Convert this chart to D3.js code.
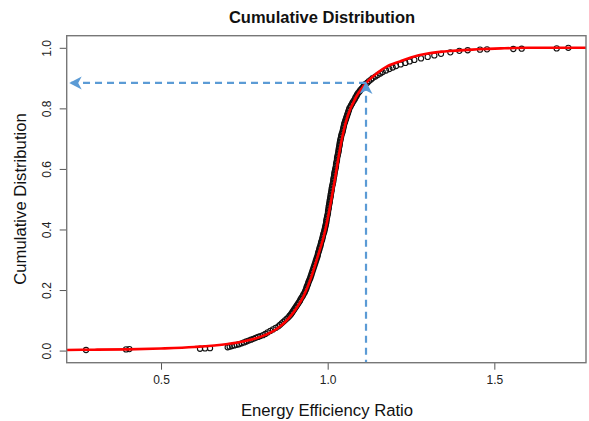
<!DOCTYPE html>
<html>
<head>
<meta charset="utf-8">
<script src="https://cdn.jsdelivr.net/npm/d3@7"></script>
<style>
  html, body { margin: 0; padding: 0; background: #fff; }
  svg { display: block; font-family: "Liberation Sans", Arial, sans-serif; }
</style>
</head>
<body>
<svg id="chart" width="589" height="421"></svg>
<script>
// Empirical cumulative distribution of the energy efficiency ratio (sorted sample values)
const effRatio = [
  0.275, 0.395, 0.405, 0.617, 0.632, 0.647,
  0.700, 0.706, 0.713, 0.720, 0.727, 0.734, 0.742, 0.749, 0.756, 0.763,
  0.770, 0.777, 0.784, 0.791, 0.798,
  0.806, 0.813, 0.820, 0.828, 0.836, 0.844, 0.852, 0.857, 0.862, 0.867,
  0.872, 0.877, 0.882, 0.886, 0.890, 0.893, 0.896, 0.899, 0.902, 0.905,
  0.908, 0.911, 0.914, 0.917, 0.919, 0.922, 0.925, 0.927, 0.930, 0.932,
  0.934, 0.936, 0.937, 0.939, 0.941, 0.942, 0.944, 0.946, 0.948, 0.949,
  0.951, 0.952, 0.954, 0.955, 0.957, 0.958, 0.960, 0.961, 0.963, 0.964,
  0.966, 0.967, 0.969, 0.970, 0.971, 0.972, 0.974, 0.975, 0.976, 0.978,
  0.979, 0.980, 0.981, 0.983, 0.984, 0.985, 0.986, 0.987, 0.989, 0.990,
  0.991, 0.992, 0.993, 0.994, 0.995, 0.996, 0.996, 0.997, 0.998, 0.999,
  1.000, 1.001, 1.001, 1.002, 1.003, 1.003, 1.004, 1.005, 1.006, 1.006,
  1.007, 1.008, 1.009, 1.009, 1.010, 1.011, 1.012, 1.012, 1.013, 1.014,
  1.015, 1.016, 1.017, 1.017, 1.018, 1.019, 1.020, 1.020, 1.021, 1.022,
  1.023, 1.024, 1.025, 1.025, 1.026, 1.027, 1.028, 1.028, 1.029, 1.030,
  1.031, 1.032, 1.033, 1.033, 1.034, 1.035, 1.036, 1.036, 1.037, 1.038,
  1.039, 1.040, 1.041, 1.042, 1.044, 1.045, 1.046, 1.047, 1.048, 1.049,
  1.050, 1.052, 1.053, 1.055, 1.056, 1.058, 1.059, 1.061, 1.062, 1.064,
  1.065, 1.068, 1.070, 1.073, 1.075, 1.078, 1.081, 1.083, 1.086, 1.088,
  1.091, 1.095, 1.098, 1.102, 1.106, 1.109, 1.113, 1.119, 1.124, 1.130,
  1.135, 1.143, 1.150, 1.158, 1.165, 1.175, 1.185, 1.195, 1.205, 1.219,
  1.233, 1.246, 1.260, 1.280, 1.300, 1.320, 1.340, 1.368, 1.395,
  1.420, 1.457, 1.478, 1.557, 1.582, 1.687, 1.722
];
const cumProb = [
  0.002, 0.004, 0.005, 0.006, 0.007, 0.008,
  0.011, 0.013, 0.015, 0.017, 0.019, 0.021, 0.024, 0.027, 0.030, 0.033,
  0.036, 0.039, 0.042, 0.045, 0.048,
  0.051, 0.055, 0.060, 0.065, 0.070, 0.075, 0.080, 0.085, 0.090, 0.095,
  0.100, 0.105, 0.110, 0.115, 0.120, 0.125, 0.130, 0.135, 0.140, 0.145,
  0.150, 0.155, 0.160, 0.165, 0.170, 0.175, 0.180, 0.185, 0.190, 0.195,
  0.200, 0.205, 0.210, 0.215, 0.220, 0.225, 0.230, 0.235, 0.240, 0.245,
  0.250, 0.255, 0.260, 0.265, 0.270, 0.275, 0.280, 0.285, 0.290, 0.295,
  0.300, 0.305, 0.310, 0.315, 0.320, 0.325, 0.330, 0.335, 0.340, 0.345,
  0.350, 0.355, 0.360, 0.365, 0.370, 0.375, 0.380, 0.385, 0.390, 0.395,
  0.400, 0.405, 0.410, 0.415, 0.420, 0.425, 0.430, 0.435, 0.440, 0.445,
  0.450, 0.455, 0.460, 0.465, 0.470, 0.475, 0.480, 0.485, 0.490, 0.495,
  0.500, 0.505, 0.510, 0.515, 0.520, 0.525, 0.530, 0.535, 0.540, 0.545,
  0.550, 0.555, 0.560, 0.565, 0.570, 0.575, 0.580, 0.585, 0.590, 0.595,
  0.600, 0.605, 0.610, 0.615, 0.620, 0.625, 0.630, 0.635, 0.640, 0.645,
  0.650, 0.655, 0.660, 0.665, 0.670, 0.675, 0.680, 0.685, 0.690, 0.695,
  0.700, 0.705, 0.710, 0.715, 0.720, 0.725, 0.730, 0.735, 0.740, 0.745,
  0.750, 0.755, 0.760, 0.765, 0.770, 0.775, 0.780, 0.785, 0.790, 0.795,
  0.800, 0.805, 0.810, 0.815, 0.820, 0.825, 0.830, 0.835, 0.840, 0.845,
  0.850, 0.855, 0.860, 0.865, 0.870, 0.875, 0.880, 0.885, 0.890, 0.895,
  0.900, 0.905, 0.910, 0.915, 0.920, 0.925, 0.930, 0.935, 0.940, 0.945,
  0.950, 0.955, 0.960, 0.965, 0.970, 0.975, 0.980, 0.985, 0.990,
  0.992, 0.994, 0.995, 0.996, 0.997, 0.998, 1.000
];

// Fitted cumulative distribution curve (x, probability)
const fitX = [0.217, 0.300, 0.400, 0.500, 0.600, 0.700, 0.750, 0.800, 0.850, 0.870,
              0.900, 0.930, 0.950, 0.970, 0.990, 1.000, 1.020, 1.040, 1.060, 1.085,
              1.117, 1.150, 1.177, 1.217, 1.250, 1.300, 1.350, 1.450, 1.520, 1.600, 1.775];
const fitP = [0.002, 0.003, 0.004, 0.007, 0.012, 0.022, 0.031, 0.046, 0.074, 0.092,
              0.130, 0.185, 0.240, 0.310, 0.385, 0.435, 0.555, 0.685, 0.775, 0.837,
              0.886, 0.918, 0.938, 0.955, 0.968, 0.981, 0.988, 0.995, 0.998, 1.000, 1.000];

// Highlighted threshold (ratio, cumulative probability)
const markRatio = 1.115;
const markProb = 0.884;

// Axis ticks
const xTicks = [0.5, 1.0, 1.5];
const yTicks = [0.0, 0.2, 0.4, 0.6, 0.8, 1.0];

const svg = d3.select("#chart");
const plot = { left: 66.7, right: 586, top: 35.7, bottom: 362.7 };

const x = d3.scaleLinear().domain([0.217, 1.775]).range([plot.left, plot.right]);
const y = d3.scaleLinear().domain([-0.04, 1.04]).range([plot.bottom, plot.top]);

const defs = svg.append("defs");
defs.append("marker")
  .attr("id", "stealth")
  .attr("markerUnits", "userSpaceOnUse")
  .attr("viewBox", "-14 -8 16 16")
  .attr("refX", 0).attr("refY", 0)
  .attr("markerWidth", 16).attr("markerHeight", 16)
  .attr("orient", "auto")
  .append("path")
  .attr("d", "M0,0 L-12.5,-6.5 L-9,0 L-12.5,6.5 Z")
  .attr("fill", "#5b9bd5");

// Axes
const xAxis = svg.append("g")
  .attr("transform", `translate(0,${plot.bottom})`)
  .call(d3.axisBottom(x).tickValues(xTicks).tickFormat(d3.format(".1f")).tickSize(7).tickPadding(6));
xAxis.select(".domain").remove();
xAxis.selectAll("line").attr("stroke", "#555");
xAxis.selectAll("text").attr("font-size", 12).attr("fill", "#222")
  .attr("font-family", "Liberation Sans, Arial, sans-serif");

const yAxis = svg.append("g")
  .attr("transform", `translate(${plot.left},0)`)
  .call(d3.axisLeft(y).tickValues(yTicks).tickFormat(d3.format(".1f")).tickSize(7));
yAxis.select(".domain").remove();
yAxis.selectAll("line").attr("stroke", "#555");
yAxis.selectAll("text")
  .attr("font-size", 12).attr("fill", "#222")
  .attr("font-family", "Liberation Sans, Arial, sans-serif")
  .attr("x", null)
  .attr("text-anchor", "middle")
  .attr("transform", "translate(-20,0) rotate(-90)")
  .attr("dy", "0.35em");

// Data points (open circles)
const pts = d3.range(effRatio.length);
svg.append("g")
  .selectAll("circle")
  .data(pts)
  .join("circle")
  .attr("cx", i => x(effRatio[i]))
  .attr("cy", i => y(cumProb[i]))
  .attr("r", 2.6)
  .attr("fill", "none")
  .attr("stroke", "#111")
  .attr("stroke-width", 1.1);

// Fitted curve
svg.append("path")
  .datum(d3.range(fitX.length))
  .attr("fill", "none")
  .attr("stroke", "#ff0000")
  .attr("stroke-width", 2.6)
  .attr("d", d3.line().x(i => x(fitX[i])).y(i => y(fitP[i])).curve(d3.curveMonotoneX));

// Threshold arrows
svg.append("line")
  .attr("x1", x(markRatio)).attr("y1", y(markProb))
  .attr("x2", plot.left + 2.5).attr("y2", y(markProb))
  .attr("stroke", "#5b9bd5").attr("stroke-width", 2.2)
  .attr("stroke-dasharray", "7,5")
  .attr("marker-end", "url(#stealth)");

svg.append("line")
  .attr("x1", x(markRatio)).attr("y1", plot.bottom)
  .attr("x2", x(markRatio)).attr("y2", y(markProb) - 1.5)
  .attr("stroke", "#5b9bd5").attr("stroke-width", 2.2)
  .attr("stroke-dasharray", "7,5")
  .attr("stroke-dashoffset", 4)
  .attr("marker-end", "url(#stealth)");

// Plot frame
svg.append("rect")
  .attr("x", plot.left).attr("y", plot.top)
  .attr("width", plot.right - plot.left).attr("height", plot.bottom - plot.top)
  .attr("fill", "none").attr("stroke", "#777").attr("stroke-width", 1.4);

// Titles
svg.append("text")
  .attr("x", 322).attr("y", 23)
  .attr("text-anchor", "middle")
  .attr("font-size", 16.5).attr("font-weight", "bold").attr("fill", "#111")
  .text("Cumulative Distribution");

svg.append("text")
  .attr("x", 327).attr("y", 416)
  .attr("text-anchor", "middle")
  .attr("font-size", 16.7).attr("fill", "#111")
  .text("Energy Efficiency Ratio");

svg.append("text")
  .attr("transform", `translate(26,199) rotate(-90)`)
  .attr("text-anchor", "middle")
  .attr("font-size", 16.7).attr("fill", "#111")
  .text("Cumulative Distribution");
</script>
</body>
</html>
